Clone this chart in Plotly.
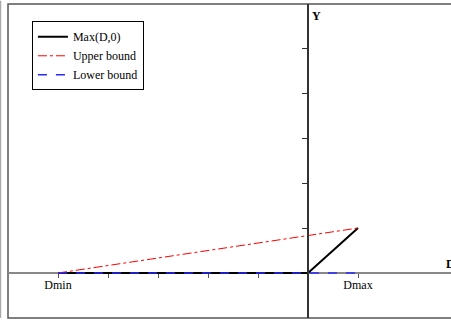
import plotly.graph_objects as go

# Data
max_x = [-5, 0, 1]
max_y = [0, 0, 1]
upper_x = [-5, 1]
upper_y = [0, 1]
lower_x = [-5, 1]
lower_y = [0, 0]
xtick_vals = [-5, -4, -3, -2, -1, 1]
xtick_text = ["Dmin", "", "", "", "", "Dmax"]
ytick_vals = [1, 2, 3, 4, 5]

XR = [-6, 2.86]
YR = [-1, 5.98]

fig = go.Figure()
fig.add_trace(go.Scatter(x=max_x, y=max_y, mode="lines", name="Max(D,0)",
                         line=dict(color="black", width=2)))
fig.add_trace(go.Scatter(x=upper_x, y=upper_y, mode="lines", name="Upper bound",
                         line=dict(color="red", width=1, dash="dashdot")))
fig.add_trace(go.Scatter(x=lower_x, y=lower_y, mode="lines", name="Lower bound",
                         line=dict(color="#2a2aff", width=1.5, dash="dash")))

xpos = (0 - YR[0]) / (YR[1] - YR[0])
ypos = (0 - XR[0]) / (XR[1] - XR[0])

fig.update_layout(
    width=451, height=325,
    margin=dict(l=8, r=0, t=4, b=7),
    paper_bgcolor="white", plot_bgcolor="white",
    font=dict(family="Liberation Serif, Times New Roman, serif", size=12, color="black"),
    showlegend=True,
    legend=dict(x=0.054, y=0.945, xanchor="left", yanchor="top",
                bordercolor="black", borderwidth=1, bgcolor="white",
                font=dict(size=12), tracegroupgap=0, itemwidth=30),
    xaxis=dict(range=XR, anchor="free", position=xpos, showgrid=False, zeroline=False,
               showline=True, linecolor="#888888", linewidth=1.5, layer="below traces",
               tickmode="array", tickvals=xtick_vals, ticktext=xtick_text,
               ticks="outside", ticklen=4, tickcolor="#555555",
               ticklabelstandoff=-3, tickfont=dict(size=12)),
    yaxis=dict(range=YR, anchor="free", position=ypos, showgrid=False, zeroline=False,
               showline=True, linecolor="#333333", linewidth=1.5,
               tickmode="array", tickvals=ytick_vals, showticklabels=False,
               ticks="outside", ticklen=5, tickcolor="#333333"),
    annotations=[
        dict(x=0, y=1, xref="x", yref="paper", text="<b>Y</b>", showarrow=False,
             xanchor="left", yanchor="top", xshift=2, yshift=-3, font=dict(size=12)),
        dict(x=1, y=0, xref="paper", yref="y", text="<b>D</b>", showarrow=False,
             xanchor="left", yanchor="bottom", xshift=-7, yshift=0, font=dict(size=12)),
    ],
    shapes=[
        dict(type="rect", xref="paper", yref="paper", x0=0, x1=1.05, y0=0, y1=1,
             line=dict(color="#555555", width=1.5), layer="below"),
        dict(type="line", xref="paper", yref="paper", x0=-7.5/443, x1=-7.5/443, y0=0, y1=1.01,
             line=dict(color="#aaaaaa", width=1.5)),
    ],
)

fig.write_html("out.html")
